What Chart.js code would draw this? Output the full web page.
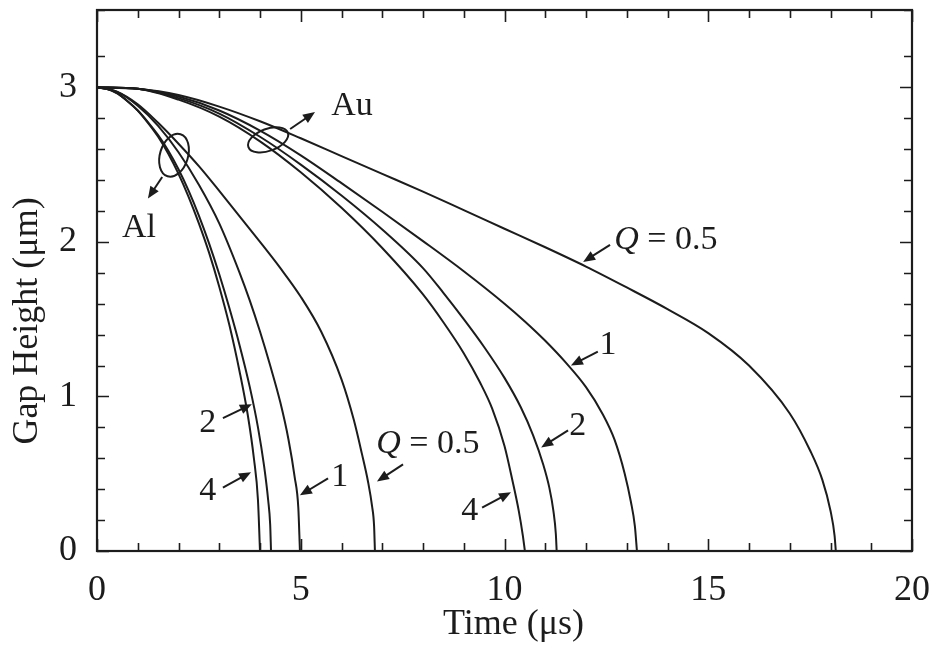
<!DOCTYPE html>
<html>
<head>
<meta charset="utf-8">
<script src="https://cdn.jsdelivr.net/npm/chart.js@4.4.0/dist/chart.umd.min.js"></script>
<style>
  html, body { margin: 0; padding: 0; background: #fff; }
  #wrap { width: 936px; height: 656px; }
</style>
</head>
<body>
<div id="wrap"><canvas id="chart" width="936" height="656"></canvas></div>
<script>
// Au curves (time in µs, gap height in µm)
const tAu05 = [0, 1, 2, 3, 4, 5, 6, 7, 8, 9, 10, 11, 12, 13, 14, 15, 16, 17, 17.5, 17.8, 18.0, 18.1, 18.13];
const hAu05 = [3, 2.99, 2.95, 2.875, 2.78, 2.67, 2.555, 2.44, 2.325, 2.205, 2.085, 1.965, 1.84, 1.705, 1.565, 1.41, 1.20, 0.89, 0.65, 0.46, 0.26, 0.1, 0];
const tAu1 = [0, 1, 2, 3, 4, 5, 6, 7, 8, 9, 10, 10.5, 11, 11.5, 12, 12.4, 12.7, 12.95, 13.1, 13.2, 13.25];
const hAu1 = [3, 2.99, 2.94, 2.85, 2.72, 2.56, 2.38, 2.195, 2.005, 1.81, 1.60, 1.485, 1.36, 1.22, 1.06, 0.89, 0.72, 0.5, 0.32, 0.16, 0];
const tAu2 = [0, 1, 2, 3, 4, 5, 6, 7, 8, 8.5, 9, 9.5, 10, 10.4, 10.7, 10.95, 11.1, 11.2, 11.26, 11.28];
const hAu2 = [3, 2.99, 2.93, 2.83, 2.68, 2.50, 2.30, 2.08, 1.83, 1.67, 1.50, 1.32, 1.12, 0.93, 0.75, 0.56, 0.41, 0.26, 0.11, 0];
const tAu4 = [0, 1, 2, 3, 4, 5, 6, 7, 8, 8.5, 9, 9.4, 9.7, 10, 10.2, 10.35, 10.45, 10.5];
const hAu4 = [3, 2.99, 2.92, 2.81, 2.65, 2.45, 2.22, 1.96, 1.66, 1.48, 1.28, 1.09, 0.92, 0.68, 0.45, 0.26, 0.1, 0];

// Al curves
const tAl05 = [0, 0.5, 1, 1.5, 2, 2.5, 3, 3.5, 4, 4.5, 5, 5.5, 6, 6.3, 6.5, 6.65, 6.75, 6.8, 6.82];
const hAl05 = [3, 2.97, 2.89, 2.77, 2.635, 2.49, 2.33, 2.165, 2.0, 1.83, 1.645, 1.42, 1.11, 0.85, 0.63, 0.45, 0.29, 0.16, 0];
const tAl1 = [0, 0.5, 1, 1.5, 2, 2.5, 3, 3.5, 3.75, 4, 4.25, 4.5, 4.7, 4.85, 4.94, 4.98];
const hAl1 = [3, 2.97, 2.88, 2.75, 2.58, 2.37, 2.12, 1.80, 1.62, 1.42, 1.2, 0.96, 0.72, 0.48, 0.28, 0];
const tAl2 = [0, 0.25, 0.5, 0.75, 1, 1.25, 1.5, 1.75, 2, 2.25, 2.5, 2.75, 3, 3.25, 3.5, 3.75, 3.95, 4.1, 4.2, 4.25, 4.27];
const hAl2 = [3, 2.99, 2.96, 2.91, 2.85, 2.775, 2.69, 2.59, 2.47, 2.33, 2.17, 1.99, 1.79, 1.57, 1.33, 1.06, 0.8, 0.55, 0.33, 0.17, 0];
const tAl4 = [0, 0.25, 0.5, 0.75, 1, 1.25, 1.5, 1.75, 2, 2.25, 2.5, 2.75, 3, 3.25, 3.5, 3.7, 3.85, 3.95, 4.0];
const hAl4 = [3, 2.99, 2.96, 2.91, 2.85, 2.77, 2.68, 2.57, 2.44, 2.29, 2.12, 1.93, 1.71, 1.46, 1.16, 0.88, 0.6, 0.33, 0];

const xTickLabels = [0, 5, 10, 15, 20];
const yTickLabels = [0, 1, 2, 3];

// labels, arrows and ellipses placed in data units
const notes = [
  { t: 6.26, h: 2.88, text: 'Au' },
  { t: 1.03, h: 2.09, text: 'Al' },
  { t: 13.96, h: 2.01, text: '= 0.5', q: true },
  { t: 12.54, h: 1.33, text: '1' },
  { t: 11.8, h: 0.81, text: '2' },
  { t: 9.15, h: 0.26, text: '4' },
  { t: 8.12, h: 0.69, text: '= 0.5', q: true },
  { t: 5.96, h: 0.48, text: '1' },
  { t: 2.72, h: 0.83, text: '2' },
  { t: 2.72, h: 0.39, text: '4' }
];
const arrows = [
  [4.74, 2.73, 5.35, 2.84],
  [1.6, 2.42, 1.25, 2.28],
  [12.59, 1.98, 11.93, 1.87],
  [12.29, 1.29, 11.63, 1.20],
  [11.56, 0.78, 10.9, 0.67],
  [9.45, 0.28, 10.16, 0.38],
  [7.51, 0.56, 6.87, 0.45],
  [5.67, 0.47, 4.98, 0.36],
  [3.09, 0.86, 3.8, 0.95],
  [3.09, 0.41, 3.78, 0.51]
];
const rings = [
  { t: 4.2, h: 2.66, rx: 21, ry: 11, rot: -0.35 },
  { t: 1.89, h: 2.56, rx: 14, ry: 22, rot: 0.3 }
];

const ink = '#1c1c1c';
const serif = "'Liberation Serif', 'DejaVu Serif', serif";

function pts(ts, hs) {
  return ts.map((t, i) => ({ x: t, y: hs[i] }));
}

const curves = [
  ['Au Q=0.5', tAu05, hAu05], ['Au Q=1', tAu1, hAu1], ['Au Q=2', tAu2, hAu2], ['Au Q=4', tAu4, hAu4],
  ['Al Q=0.5', tAl05, hAl05], ['Al Q=1', tAl1, hAl1], ['Al Q=2', tAl2, hAl2], ['Al Q=4', tAl4, hAl4]
];

// inward ticks, frame and the text / arrows on the plot
const decorations = {
  id: 'decorations',
  afterDatasetsDraw(chart) {
    const ctx = chart.ctx;
    const a = chart.chartArea;
    const xs = chart.scales.x, ys = chart.scales.y;
    ctx.save();
    ctx.strokeStyle = ink;
    ctx.lineWidth = 1.6;
    xs.ticks.forEach(tk => {
      const px = Math.round(xs.getPixelForValue(tk.value)) + 0.5;
      const len = xTickLabels.includes(tk.value) ? 12 : 8;
      ctx.beginPath();
      ctx.moveTo(px, a.bottom); ctx.lineTo(px, a.bottom - len);
      ctx.moveTo(px, a.top); ctx.lineTo(px, a.top + len);
      ctx.stroke();
    });
    ys.ticks.forEach(tk => {
      const py = Math.round(ys.getPixelForValue(tk.value)) + 0.5;
      const major = Math.abs(tk.value - Math.round(tk.value)) < 1e-6;
      const len = major ? 12 : 8;
      ctx.beginPath();
      ctx.moveTo(a.left, py); ctx.lineTo(a.left + len, py);
      ctx.moveTo(a.right, py); ctx.lineTo(a.right - len, py);
      ctx.stroke();
    });
    ctx.lineWidth = 2.2;
    ctx.strokeRect(a.left, a.top, a.right - a.left, a.bottom - a.top);

    // ellipses
    ctx.lineWidth = 2;
    rings.forEach(r => {
      ctx.beginPath();
      ctx.ellipse(xs.getPixelForValue(r.t), ys.getPixelForValue(r.h), r.rx, r.ry, r.rot, 0, Math.PI * 2);
      ctx.stroke();
    });

    // arrows
    ctx.fillStyle = ink;
    ctx.lineWidth = 2;
    arrows.forEach(ar => {
      const x0 = xs.getPixelForValue(ar[0]), y0 = ys.getPixelForValue(ar[1]);
      const x1 = xs.getPixelForValue(ar[2]), y1 = ys.getPixelForValue(ar[3]);
      const ang = Math.atan2(y1 - y0, x1 - x0);
      const hl = 12, hw = 5;
      ctx.beginPath();
      ctx.moveTo(x0, y0);
      ctx.lineTo(x1 - Math.cos(ang) * hl * 0.7, y1 - Math.sin(ang) * hl * 0.7);
      ctx.stroke();
      ctx.beginPath();
      ctx.moveTo(x1, y1);
      ctx.lineTo(x1 - Math.cos(ang) * hl - Math.sin(ang) * hw, y1 - Math.sin(ang) * hl + Math.cos(ang) * hw);
      ctx.lineTo(x1 - Math.cos(ang) * hl + Math.sin(ang) * hw, y1 - Math.sin(ang) * hl - Math.cos(ang) * hw);
      ctx.closePath();
      ctx.fill();
    });

    // text
    ctx.textBaseline = 'middle';
    ctx.textAlign = 'left';
    notes.forEach(n => {
      const cx = xs.getPixelForValue(n.t), cy = ys.getPixelForValue(n.h);
      ctx.font = '34px ' + serif;
      const w = ctx.measureText(n.text).width;
      if (n.q) {
        ctx.font = 'italic 34px ' + serif;
        const qw = ctx.measureText('Q ').width;
        const x = cx - (qw + w) / 2;
        ctx.fillText('Q', x, cy);
        ctx.font = '34px ' + serif;
        ctx.fillText(n.text, x + qw, cy);
      } else {
        ctx.fillText(n.text, cx - w / 2, cy);
      }
    });
    ctx.restore();
  }
};

new Chart(document.getElementById('chart'), {
  type: 'line',
  data: {
    datasets: curves.map(c => ({
      label: c[0],
      data: pts(c[1], c[2]),
      borderColor: ink,
      borderWidth: 2,
      pointRadius: 0,
      fill: false,
      cubicInterpolationMode: 'monotone'
    }))
  },
  options: {
    responsive: false,
    animation: false,
    layout: { padding: { top: 10, right: 24, left: 6, bottom: 10 } },
    plugins: { legend: { display: false }, tooltip: { enabled: false } },
    scales: {
      x: {
        type: 'linear', min: 0, max: 20,
        grid: { display: false },
        border: { display: false },
        ticks: {
          stepSize: 1, autoSkip: false, maxRotation: 0, padding: 10, color: ink,
          font: { family: serif, size: 36 },
          callback: v => xTickLabels.includes(v) ? String(v) : ''
        },
        // leading spaces nudge the title a little right, as in the original
        title: { display: true, text: '  Time (μs)', color: ink, font: { family: serif, size: 36 }, padding: 0 },
        afterFit: s => { s.height = 656 - 551 - 10; s.paddingLeft = 0; s.paddingRight = 0; }
      },
      y: {
        type: 'linear', min: 0, max: 3.5,
        grid: { display: false },
        border: { display: false },
        ticks: {
          stepSize: 0.2, autoSkip: false, padding: 12, color: ink,
          font: { family: serif, size: 36 },
          callback: v => {
            const r = Math.round(v);
            return Math.abs(v - r) < 1e-6 && yTickLabels.includes(r) ? String(r) : '';
          }
        },
        // trailing spaces push the title down, the original sits below centre
        title: { display: true, text: 'Gap Height (μm)         ', color: ink, font: { family: serif, size: 36 }, padding: 0 },
        afterFit: s => { s.width = 97 - 6; s.paddingTop = 0; s.paddingBottom = 0; }
      }
    }
  },
  plugins: [decorations]
});
</script>
</body>
</html>
